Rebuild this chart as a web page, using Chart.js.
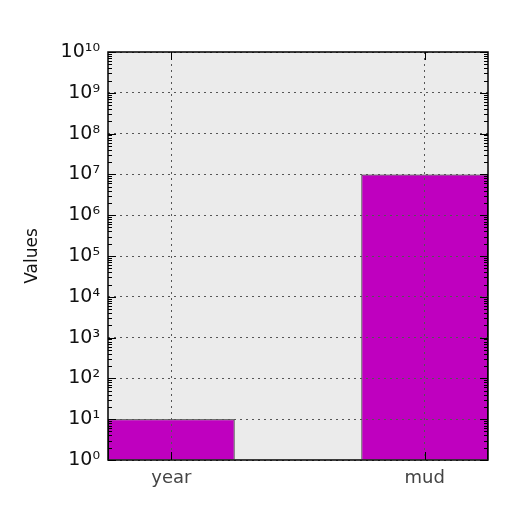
<!DOCTYPE html>
<html lang="en">
<head>
<meta charset="UTF-8">
<title>Values</title>
<style>
  html, body { margin: 0; padding: 0; background: #fff; }
  #wrap { width: 512px; height: 512px; }
</style>
<script src="https://cdn.jsdelivr.net/npm/chart.js"></script>
</head>
<body>
<div id="wrap"><canvas id="chart" width="512" height="512"></canvas></div>
<script>
  const categories = ["year", "mud"];
  const positions = [0.5, 2.5];
  const values = [10, 10000000];
  const decades = [0, 1, 2, 3, 4, 5, 6, 7, 8, 9, 10];

  const sup = { "0": "⁰", "1": "¹", "2": "²", "3": "³", "4": "⁴", "5": "⁵", "6": "⁶", "7": "⁷", "8": "⁸", "9": "⁹" };
  const powLabel = n => "10" + String(n).split("").map(c => sup[c]).join("");

  // plot background, inward tick marks and box around the axes
  const frame = {
    id: "frame",
    beforeDraw(chart) {
      const { ctx, chartArea: a } = chart;
      ctx.save();
      ctx.fillStyle = "#ebebeb";
      ctx.fillRect(a.left, a.top, a.right - a.left, a.bottom - a.top);
      ctx.restore();
    },
    afterDraw(chart) {
      const { ctx, chartArea: a, scales } = chart;
      ctx.save();
      ctx.strokeStyle = "#000";
      ctx.lineWidth = 1;
      ctx.beginPath();
      decades.forEach(n => {
        const y = Math.round(scales.y.getPixelForValue(Math.pow(10, n))) + 0.5;
        ctx.moveTo(a.left, y); ctx.lineTo(a.left + 8, y);
        ctx.moveTo(a.right, y); ctx.lineTo(a.right - 8, y);
        if (n < 10) {
          for (let m = 2; m < 10; m++) {
            const ym = Math.round(scales.y.getPixelForValue(m * Math.pow(10, n))) + 0.5;
            ctx.moveTo(a.left, ym); ctx.lineTo(a.left + 4, ym);
            ctx.moveTo(a.right, ym); ctx.lineTo(a.right - 4, ym);
          }
        }
      });
      positions.forEach(v => {
        const x = Math.round(scales.x.getPixelForValue(v)) + 0.5;
        ctx.moveTo(x, a.bottom); ctx.lineTo(x, a.bottom - 8);
        ctx.moveTo(x, a.top); ctx.lineTo(x, a.top + 8);
      });
      ctx.stroke();
      ctx.lineWidth = 1.5;
      ctx.strokeRect(a.left, a.top, a.right - a.left, a.bottom - a.top);
      ctx.restore();
    }
  };

  const ctx = document.getElementById("chart");
  const chart = new Chart(ctx, {
    type: "bar",
    data: {
      datasets: [{
        data: positions.map((x, i) => ({ x: x, y: values[i] })),
        backgroundColor: "#bf00bf",
        borderColor: "#111",
        borderWidth: 1,
        categoryPercentage: 0.5,
        barPercentage: 1,
        base: 1
      }]
    },
    options: {
      responsive: false,
      animation: false,
      devicePixelRatio: 1,
      layout: { padding: { top: 52, right: 24, left: 0, bottom: 0 } },
      plugins: { legend: { display: false }, tooltip: { enabled: false } },
      scales: {
        x: {
          type: "linear",
          min: 0,
          max: 3,
          offset: false,
          afterBuildTicks: s => { s.ticks = positions.map(v => ({ value: v })); },
          afterFit: s => { s.height = 52; },
          ticks: {
            callback: v => categories[positions.indexOf(v)],
            color: "#444",
            font: { family: "DejaVu Sans", size: 18 },
            padding: 8,
            maxRotation: 0
          },
          grid: { offset: false, color: "#555", lineWidth: 1, drawTicks: false, z: 1 },
          border: { display: false, dash: [2, 4] }
        },
        y: {
          type: "logarithmic",
          min: 1,
          max: 1e10,
          afterBuildTicks: s => { s.ticks = decades.map(n => ({ value: Math.pow(10, n) })); },
          afterFit: s => { s.width = 108; },
          ticks: {
            callback: v => powLabel(Math.round(Math.log10(v))),
            color: "#111",
            font: { family: "DejaVu Sans", size: 19 },
            padding: 8
          },
          grid: { color: "#555", lineWidth: 1, drawTicks: false, z: 1 },
          border: { display: false, dash: [2, 4] },
          title: {
            display: true,
            text: "Values",
            color: "#111",
            font: { family: "DejaVu Sans", size: 17 },
            padding: { top: 22, bottom: 0 }
          }
        }
      }
    },
    plugins: [frame]
  });
</script>
</body>
</html>
